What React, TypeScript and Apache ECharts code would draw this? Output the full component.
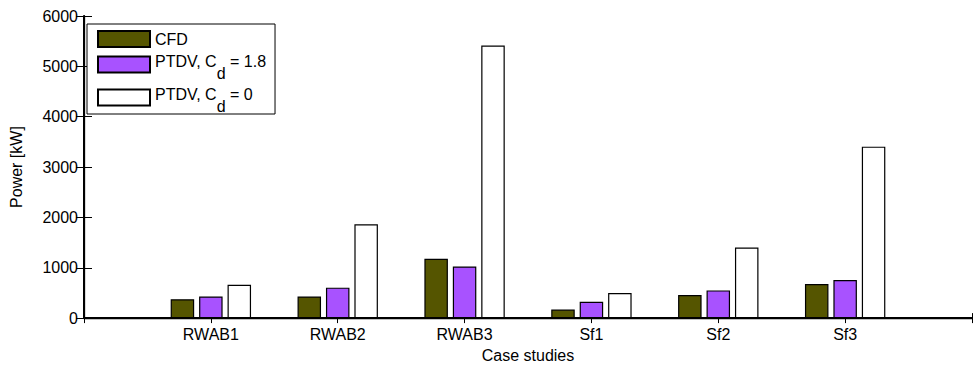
import React, { useEffect, useRef } from "react";
import * as echarts from "echarts";

// Case studies and the three power estimates for each (kW)
const caseStudies = ["RWAB1", "RWAB2", "RWAB3", "Sf1", "Sf2", "Sf3"];
const cfdPower = [375, 430, 1180, 170, 460, 675];
const ptdvDragPower = [430, 605, 1025, 325, 550, 755];
const ptdvNoDragPower = [660, 1865, 5415, 500, 1400, 3405];

const seriesNames = ["CFD", "PTDV, Cd = 1.8", "PTDV, Cd = 0"];
const yTicks = [0, 1000, 2000, 3000, 4000, 5000, 6000];

const FONT = "Liberation Sans, Arial, Helvetica, sans-serif";

// Cases sit at x = 1..6 on an axis that runs from 0 to 7
const toPoints = (values: number[]) => values.map((v, i) => [i + 1, v]);

export default function App() {
  const ref = useRef<HTMLDivElement>(null);

  useEffect(() => {
    if (!ref.current) return;
    const chart = echarts.init(ref.current, undefined, { renderer: "svg" });

    // "Cd" is written with a subscript d: the main text hangs near the top of
    // a taller line and the d sits at its bottom.
    const legendLabel = (name: string) => {
      const m = name.match(/^(PTDV, C)d( = .*)$/);
      if (!m) return `{c|${name}}`;
      return `{n|${m[1]}}{s|d}{n|${m[2]}}`;
    };

    const barStyle = (color: string) => ({
      color,
      borderColor: "#000",
      borderWidth: 1.2,
    });

    const xCommon = {
      type: "value" as const,
      min: 0,
      max: 7,
      interval: 1,
      splitLine: { show: false },
    };

    const yCommon = {
      type: "value" as const,
      min: yTicks[0],
      max: yTicks[yTicks.length - 1],
      interval: 1000,
      splitLine: { show: false },
    };

    const txt = { fontSize: 16, fontFamily: FONT, color: "#000" };

    chart.setOption({
      animation: false,
      backgroundColor: "#fff",
      textStyle: { fontFamily: FONT },
      grid: { left: 79, right: 1, top: 16, bottom: 44 },
      legend: {
        orient: "vertical",
        left: 87,
        top: 24,
        padding: [6, 9, 0, 10],
        itemWidth: 52,
        itemHeight: 16,
        itemGap: 0,
        backgroundColor: "#fff",
        borderColor: "#000",
        borderWidth: 1,
        borderRadius: 0,
        icon: "rect",
        data: seriesNames,
        formatter: legendLabel,
        textStyle: {
          fontFamily: FONT,
          color: "#000",
          rich: {
            c: { ...txt, lineHeight: 18 },
            n: { ...txt, lineHeight: 18, verticalAlign: "top", padding: [5, 0, 0, 0] },
            s: { ...txt, lineHeight: 33, verticalAlign: "bottom" },
          },
        },
      },
      xAxis: [
        {
          ...xCommon,
          position: "bottom",
          axisLine: { show: true, lineStyle: { color: "#000", width: 2 } },
          axisTick: { show: true, inside: true, length: 5, lineStyle: { color: "#000" } },
          axisLabel: {
            show: true,
            margin: 8,
            ...txt,
            formatter: (v: number) => caseStudies[v - 1] ?? "",
          },
          name: "Case studies",
          nameLocation: "middle",
          nameGap: 27,
          nameTextStyle: txt,
        },
        {
          ...xCommon,
          position: "top",
          axisLine: { show: true, lineStyle: { color: "#000", width: 1.3 } },
          axisTick: { show: true, inside: true, length: 5, lineStyle: { color: "#000" } },
          axisLabel: { show: false },
        },
      ],
      yAxis: [
        {
          ...yCommon,
          position: "left",
          axisLine: { show: true, lineStyle: { color: "#000", width: 2 } },
          axisTick: { show: true, inside: true, length: 8, lineStyle: { color: "#000" } },
          axisLabel: {
            show: true,
            margin: 6,
            ...txt,
            formatter: (v: number) => String(v),
          },
          name: "Power [kW]",
          nameLocation: "middle",
          nameGap: 60,
          nameTextStyle: txt,
        },
        {
          ...yCommon,
          position: "right",
          axisLine: { show: true, lineStyle: { color: "#000", width: 1.3 } },
          axisTick: { show: true, inside: true, length: 8, lineStyle: { color: "#000" } },
          axisLabel: { show: false },
        },
      ],
      series: [
        {
          name: seriesNames[0],
          type: "bar",
          xAxisIndex: 0,
          yAxisIndex: 0,
          barWidth: 23.5,
          barGap: "21%",
          itemStyle: barStyle("#555500"),
          data: toPoints(cfdPower),
        },
        {
          name: seriesNames[1],
          type: "bar",
          xAxisIndex: 0,
          yAxisIndex: 0,
          barWidth: 23.5,
          barGap: "21%",
          itemStyle: barStyle("#a852ff"),
          data: toPoints(ptdvDragPower),
        },
        {
          name: seriesNames[2],
          type: "bar",
          xAxisIndex: 0,
          yAxisIndex: 0,
          barWidth: 23.5,
          barGap: "21%",
          itemStyle: barStyle("#ffffff"),
          data: toPoints(ptdvNoDragPower),
        },
      ],
    });

    return () => chart.dispose();
  }, []);

  return (
    <div
      ref={ref}
      style={{ position: "fixed", left: 0, top: 0, width: 975, height: 368 }}
    />
  );
}
